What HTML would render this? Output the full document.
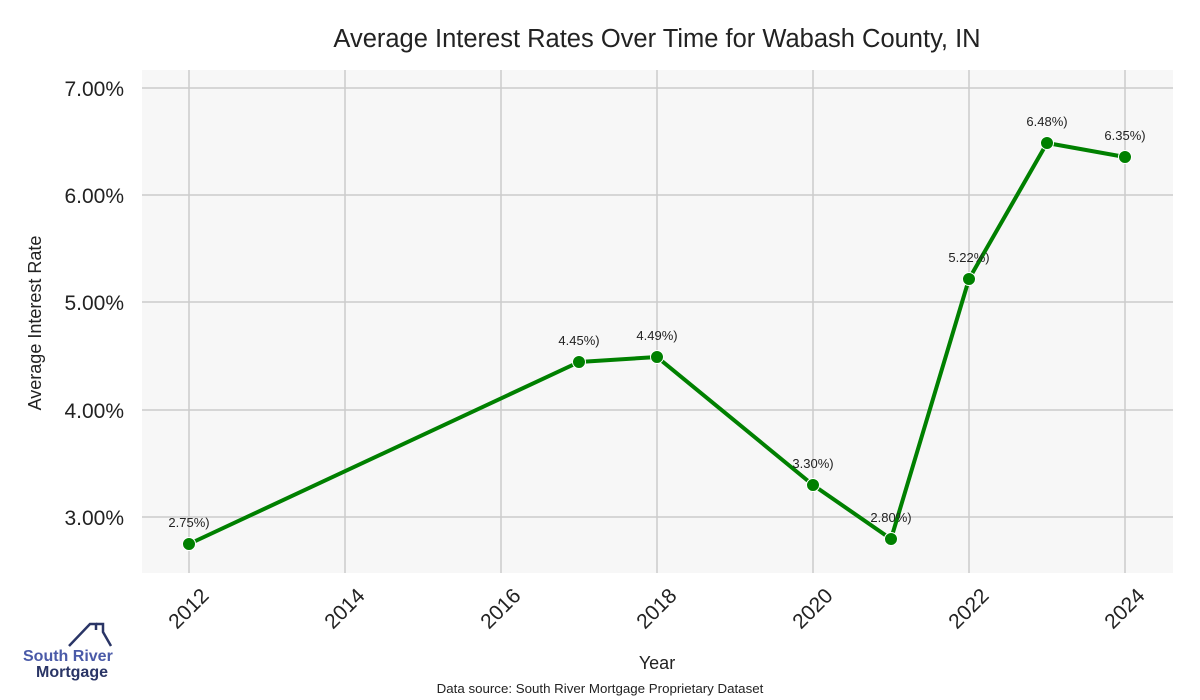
<!DOCTYPE html>
<html><head><style>body{margin:0;background:#fff}svg{display:block}text{font-family:"Liberation Sans",sans-serif}</style></head>
<body>
<svg width="1200" height="700" viewBox="0 0 1200 700">
<rect width="1200" height="700" fill="#fff"/>
<rect x="142" y="70" width="1031" height="503" fill="#f7f7f7"/>
<g stroke="#cccccc" stroke-width="1.5">
<line x1="189" y1="70" x2="189" y2="573"/><line x1="345" y1="70" x2="345" y2="573"/><line x1="501" y1="70" x2="501" y2="573"/><line x1="657" y1="70" x2="657" y2="573"/><line x1="813" y1="70" x2="813" y2="573"/><line x1="969" y1="70" x2="969" y2="573"/><line x1="1125" y1="70" x2="1125" y2="573"/>
<line x1="142" y1="88" x2="1173" y2="88"/><line x1="142" y1="195" x2="1173" y2="195"/><line x1="142" y1="302" x2="1173" y2="302"/><line x1="142" y1="410" x2="1173" y2="410"/><line x1="142" y1="517" x2="1173" y2="517"/>
</g>
<text x="657" y="47" font-size="25.5" text-anchor="middle" fill="#222">Average Interest Rates Over Time for Wabash County, IN</text>
<g font-size="21" fill="#222" text-anchor="end">
<text x="124" y="96">7.00%</text><text x="124" y="203">6.00%</text><text x="124" y="310">5.00%</text><text x="124" y="418">4.00%</text><text x="124" y="525">3.00%</text>
</g>
<text transform="translate(41,323) rotate(-90)" font-size="18" text-anchor="middle" fill="#222">Average Interest Rate</text>
<g font-size="21" fill="#222" text-anchor="end">
<text transform="translate(210,597) rotate(-45)">2012</text>
<text transform="translate(366,597) rotate(-45)">2014</text>
<text transform="translate(522,597) rotate(-45)">2016</text>
<text transform="translate(678,597) rotate(-45)">2018</text>
<text transform="translate(834,597) rotate(-45)">2020</text>
<text transform="translate(990,597) rotate(-45)">2022</text>
<text transform="translate(1146,597) rotate(-45)">2024</text>
</g>
<text x="657" y="669" font-size="18" text-anchor="middle" fill="#222">Year</text>
<text x="600" y="693" font-size="13.3" text-anchor="middle" fill="#222">Data source: South River Mortgage Proprietary Dataset</text>
<polyline fill="none" stroke="#008000" stroke-width="4" stroke-linejoin="round" points="189,544 579,362 657,357 813,485 891,539 969,279 1047,143 1125,157"/>
<g fill="#008000" stroke="#fff" stroke-width="1">
<circle cx="189" cy="544" r="6.5"/><circle cx="579" cy="362" r="6.5"/><circle cx="657" cy="357" r="6.5"/><circle cx="813" cy="485" r="6.5"/><circle cx="891" cy="539" r="6.5"/><circle cx="969" cy="279" r="6.5"/><circle cx="1047" cy="143" r="6.5"/><circle cx="1125" cy="157" r="6.5"/>
</g>
<g font-size="13" fill="#222" text-anchor="middle">
<text x="189" y="527">2.75%)</text><text x="579" y="345">4.45%)</text><text x="657" y="340">4.49%)</text><text x="813" y="468">3.30%)</text><text x="891" y="522">2.80%)</text><text x="969" y="262">5.22%)</text><text x="1047" y="126">6.48%)</text><text x="1125" y="140">6.35%)</text>
</g>
<polyline fill="none" stroke="#2a3566" stroke-width="2.5" points="69,646 90,624 96,624 96,630"/>
<polyline fill="none" stroke="#2a3566" stroke-width="2.5" points="96,624 103,624 103,632 111,646"/>
<text x="23" y="661" font-size="16" font-weight="bold" fill="#4a5aa8">South River</text>
<text x="36" y="677" font-size="16" font-weight="bold" fill="#2a3566">Mortgage</text>
</svg>
</body></html>
